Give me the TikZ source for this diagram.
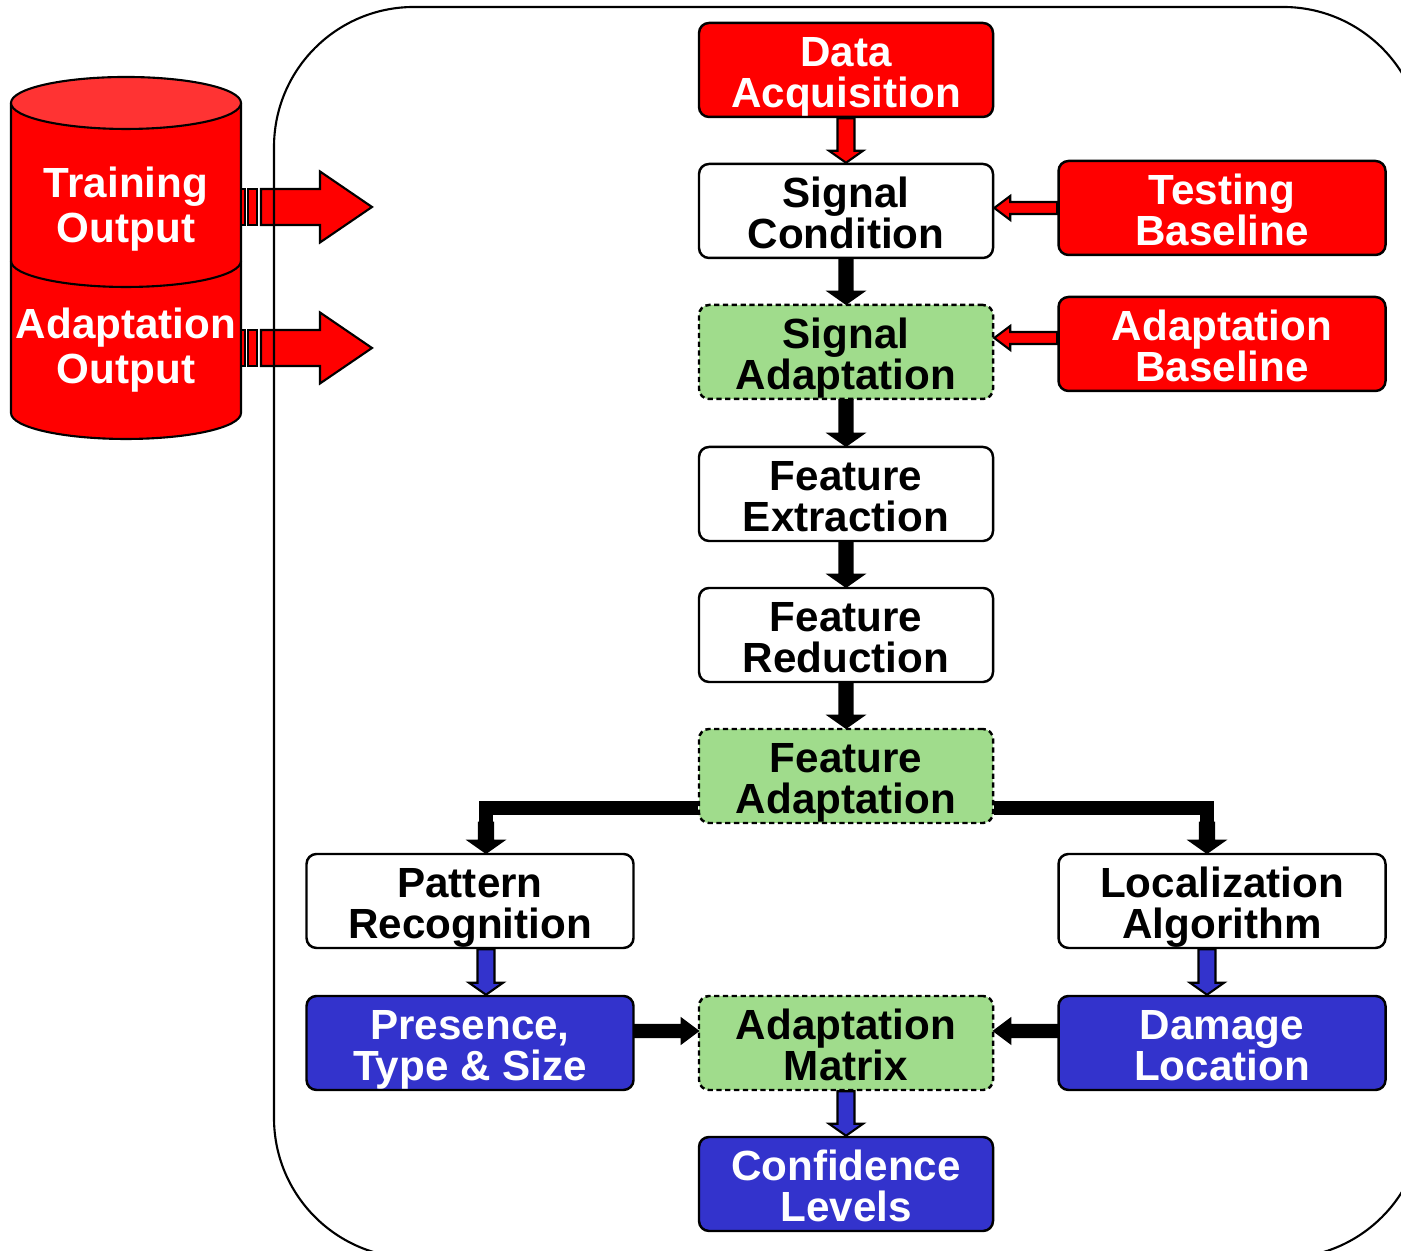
\documentclass[tikz,border=0pt]{standalone}
\usepackage{fontspec}
\setmainfont{Liberation Sans}
\usetikzlibrary{calc}

\definecolor{boxred}{RGB}{255,0,0}
\definecolor{topred}{RGB}{255,51,51}
\definecolor{boxblue}{RGB}{51,51,204}
\definecolor{boxgreen}{RGB}{160,220,140}

% block arrow: from, to, fill, shaft half width, head half width, head length
\newcommand{\fatarrow}[6]{%
  \draw[conn, fill=#3]
    ($(#1)!#4!90:(#2)$) --
    ($(#2)!#6!(#1)!#4!-90:(#1)$) --
    ($(#2)!#6!(#1)!#5!-90:(#1)$) --
    (#2) --
    ($(#2)!#6!(#1)!#5!90:(#1)$) --
    ($(#2)!#6!(#1)!#4!90:(#1)$) --
    ($(#1)!#4!-90:(#2)$) -- cycle;}
\newcommand{\vconn}[4][0.085cm]{\fatarrow{#2}{#3}{#4}{#1}{0.17cm}{0.12cm}}
\newcommand{\hconn}[3]{\fatarrow{#1}{#2}{#3}{0.06cm}{0.12cm}{0.16cm}}
% two lines with fixed line boxes
\newcommand{\twoline}[2]{\rule{0pt}{0.9em}\smash{#1}\\\smash{#2}\rule[-0.09em]{0pt}{0.09em}}

\begin{document}
\begin{tikzpicture}[
    box/.style={draw, line width=0.7pt, rounded corners=0.1cm, align=center,
      minimum width=2.94cm, minimum height=0.94cm, inner sep=0pt,
      font=\bfseries\fontsize{12pt}{11.5pt}\selectfont},
    wide/.style={minimum width=3.27cm},
    redbox/.style={box, fill=boxred, text=white},
    bluebox/.style={box, fill=boxblue, text=white},
    adaptbox/.style={box, fill=boxgreen, dash pattern=on 1.5pt off 1pt},
    conn/.style={draw=black, line width=0.6pt, line join=miter},
    cyltext/.style={text=white, align=center, inner sep=0pt,
      font=\bfseries\fontsize{12pt}{13pt}\selectfont}
  ]
    \clip (0,0) rectangle (14.01,12.51);

    % database
    \draw[conn, fill=boxred] (0.11,11.48) -- (0.11,8.38)
      arc[start angle=180, end angle=360, x radius=1.15, y radius=0.26] -- (2.41,11.48);
    \draw[conn, fill=topred] (1.26,11.48) ellipse[x radius=1.15, y radius=0.26];
    \draw[conn] (0.11,9.90) arc[start angle=180, end angle=360, x radius=1.15, y radius=0.26];
    \node[cyltext] (trn) at (1.26,10.48) {\twoline{Training}{Output}};
    \node[cyltext] (adp) at (1.26,9.07) {\twoline{Adaptation}{Output}};

    % outputs
    \foreach \c/\y in {trn/10.44, adp/9.03} {
      \coordinate (\c body) at (2.61,\y);
      \coordinate (\c tip) at (3.72,\y);
      \draw[conn, fill=boxred] (2.41,\y-0.18) rectangle (2.45,\y+0.18);
      \draw[conn, fill=boxred] (2.48,\y-0.18) rectangle (2.57,\y+0.18);
      \fatarrow{\c body}{\c tip}{boxred}{0.18cm}{0.355cm}{0.52cm}
    }

    \draw[line width=0.6pt, rounded corners=1.4cm] (2.74,12.44) rectangle (14.23,-0.07);

    % process
    \node[redbox] (da) at (8.46,11.81) {\twoline{Data}{Acquisition}};
    \node[box] (sc) at (8.46,10.40) {\twoline{Signal}{Condition}};
    \node[adaptbox] (sa) at (8.46,8.99) {\twoline{Signal}{Adaptation}};
    \node[box] (fe) at (8.46,7.57) {\twoline{Feature}{Extraction}};
    \node[box] (fr) at (8.46,6.16) {\twoline{Feature}{Reduction}};
    \node[adaptbox] (fa) at (8.46,4.75) {\twoline{Feature}{Adaptation}};
    \node[redbox, wide] (tb) at (12.22,10.43) {\twoline{Testing}{Baseline}};
    \node[redbox, wide] (ab) at (12.22,9.07) {\twoline{Adaptation}{Baseline}};
    \node[box, wide] (pr) at (4.70,3.50) {\twoline{Pattern}{Recognition}};
    \node[box, wide] (la) at (12.22,3.50) {\twoline{Localization}{Algorithm}};
    \node[bluebox, wide] (pts) at (4.70,2.08) {\twoline{Presence,}{Type \& Size}};
    \node[adaptbox] (am) at (8.46,2.08) {\twoline{Adaptation}{Matrix}};
    \node[bluebox, wide] (dl) at (12.22,2.08) {\twoline{Damage}{Location}};
    \node[bluebox] (cl) at (8.46,0.67) {\twoline{Confidence}{Levels}};

    \coordinate (tbin) at (sc.east |- tb.west);
    \coordinate (about) at ([yshift=0.06cm]ab.west);
    \coordinate (abin) at (sa.east |- about);
    \coordinate (prin) at ([xshift=0.16cm]pr.north);
    \coordinate (prbar) at ([yshift=0.3cm]prin);
    \coordinate (lain) at ([xshift=-0.15cm]la.north);
    \coordinate (labar) at ([yshift=0.3cm]lain);
    \coordinate (prout) at ([xshift=0.16cm]pr.south);
    \coordinate (ptsin) at ([xshift=0.16cm]pts.north);
    \coordinate (laout) at ([xshift=-0.15cm]la.south);
    \coordinate (dlin) at ([xshift=-0.15cm]dl.north);
    \coordinate (ptsout) at ([yshift=0.12cm]pts.east);
    \coordinate (amleft) at ([yshift=0.12cm]am.west);
    \coordinate (dlout) at ([yshift=0.12cm]dl.west);
    \coordinate (amright) at ([yshift=0.12cm]am.east);

    % connectors
    \vconn{da.south}{sc.north}{boxred}
    \foreach \a/\b in {sc/sa, sa/fe, fe/fr, fr/fa} {
      \vconn[0.065cm]{\a.south}{\b.north}{black}
    }
    \hconn{tb.west}{tbin}{boxred}
    \hconn{about}{abin}{boxred}
    \draw[line width=0.14cm] ([yshift=-0.32cm]fa.west) -| (prbar);
    \draw[line width=0.14cm] ([yshift=-0.32cm]fa.east) -| (labar);
    \vconn[0.07cm]{prbar}{prin}{black}
    \vconn[0.07cm]{labar}{lain}{black}
    \vconn{prout}{ptsin}{boxblue}
    \vconn{laout}{dlin}{boxblue}
    \hconn{ptsout}{amleft}{black}
    \hconn{dlout}{amright}{black}
    \vconn{am.south}{cl.north}{boxblue}
\end{tikzpicture}
\end{document}
